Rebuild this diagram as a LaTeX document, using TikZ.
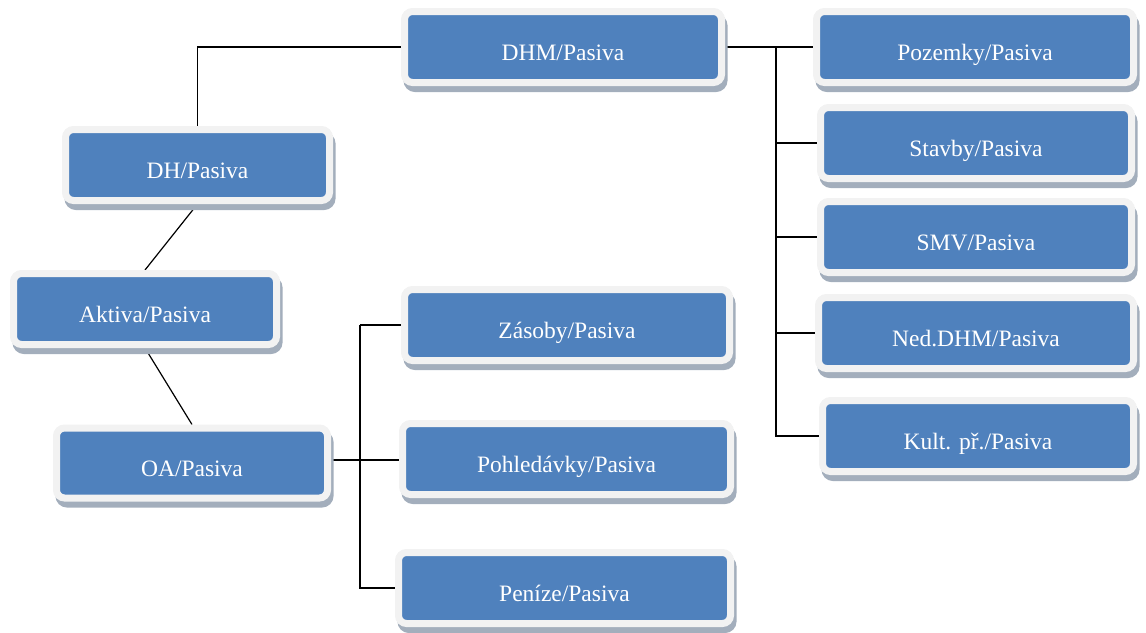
\documentclass[tikz,border=0pt]{standalone}
\usepackage{fontspec}
\setmainfont{Liberation Serif}
\usetikzlibrary{shadows,backgrounds,positioning}
\definecolor{boxblue}{HTML}{4F81BD}
\definecolor{boxrim}{HTML}{F2F2F2}
\definecolor{boxshadow}{HTML}{A3AEBC}

\begin{document}
\begin{tikzpicture}[x=1pt, y=-1pt,
	box/.style={draw=boxrim, line width=7pt, fill=boxblue, rounded corners=8pt, text=white,
		font=\fontsize{23.5}{26}\selectfont, text height=26pt, text depth=0pt, minimum height=71pt,
		drop shadow={shadow xshift=2.5pt, shadow yshift=-6pt, fill=boxshadow, draw=boxshadow, line width=7pt, opacity=1}},
	link/.style={line width=1.2pt}]
	\useasboundingbox (0,0) rectangle (1146,632);
	\node[box, minimum width=264pt] (dh) at (197.5,165) {DH/Pasiva};
	\node[box, minimum width=263pt] (akt) at (145,309) {Aktiva/Pasiva};
	\node[box, minimum width=271pt, minimum height=70pt] (oa) at (192,463) {OA/Pasiva};
	\node[box, minimum width=317pt] (dhm) at (563,47) {DHM/Pasiva};
	\node[box, minimum width=317pt] (poz) at (975,47) {Pozemky/Pasiva};
	\node[box, minimum width=311pt] (stav) at (976,143) {Stavby/Pasiva};
	\node[box, minimum width=311pt] (smv) at (976,237) {SMV/Pasiva};
	\node[box, minimum width=315pt] (ned) at (976,333) {Ned.DHM/Pasiva};
	\node[box, minimum width=311pt] (kult) at (978,436) {Kult. př./Pasiva};
	\node[box, minimum width=325pt] (zas) at (567,325) {Zásoby/Pasiva};
	\node[box, minimum width=328pt] (pohl) at (566.5,459) {Pohledávky/Pasiva};
	\node[box, minimum width=332pt] (pen) at (564.5,588) {Peníze/Pasiva};
	\begin{scope}[on background layer]
		\coordinate (rbus) at (776,47);
		\coordinate (lbus) at (360,0);
		\draw[link] (dhm.west) -| (dh.north);
		\draw[link] (dh.south) -- (akt.north);
		\draw[link] (akt.south) -- (oa.north);
		\draw[link] (dhm.east) -- (poz.west);
		\draw[link] (rbus) |- (kult.west);
		\draw[link] (rbus |- stav.west) -- (stav.west);
		\draw[link] (rbus |- smv.west) -- (smv.west);
		\draw[link] (rbus |- ned.west) -- (ned.west);
		\draw[link] ([yshift=3pt]oa.east) -- ([yshift=3pt]oa.east -| pohl.west);
		\draw[link] (lbus |- zas.west) -- (zas.west);
		\draw[link] (lbus |- zas.west) |- (pen.west);
	\end{scope}
\end{tikzpicture}
\end{document}
